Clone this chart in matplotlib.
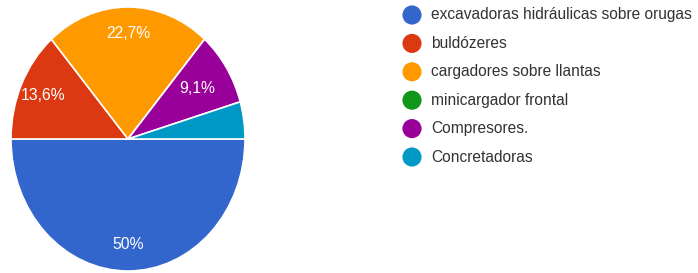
import matplotlib
matplotlib.use('Agg')
import matplotlib.pyplot as plt

# respuestas por tipo de equipo
labels = ["excavadoras hidráulicas sobre orugas", "buldózeres",
          "cargadores sobre llantas", "minicargador frontal",
          "Compresores.", "Concretadoras"]
counts = [11, 3, 5, 0, 2, 1]
colors = ["#3366cc", "#dc3912", "#ff9900", "#109618", "#990099", "#0099c6"]

plt.rcParams['font.family'] = ['Liberation Sans', 'DejaVu Sans']

W, H = 698, 273
fig = plt.figure(figsize=(W / 100, H / 100), dpi=100)

# pie axes (the picture is slightly stretched vertically)
ax = fig.add_axes([11 / W, 2 / H, 234 / W, 264 / H])


def fmt(p):
    if p < 5:
        return ''
    s = f"{p:.1f}".replace('.', ',')
    if s.endswith(',0'):
        s = s[:-2]
    return s + '%'


wedges, texts, autotexts = ax.pie(
    counts, colors=colors, startangle=0, counterclock=False,
    autopct=fmt, pctdistance=0.8,
    wedgeprops=dict(edgecolor='white', linewidth=1.2),
    textprops=dict(color='white', fontsize=11.3))
ax.set_aspect('auto')
ax.set_xlim(-1, 1)
ax.set_ylim(-1, 1)
ax.axis('off')

# smaller slice labels sit a little closer to the centre
for w, t in zip(wedges, autotexts):
    if t.get_text() and w.theta2 - w.theta1 < 40:
        x, y = t.get_position()
        t.set_position((x * 0.88, y * 0.88))

# legend drawn in pixel coordinates
lax = fig.add_axes([0, 0, 1, 1])
lax.set_xlim(0, W)
lax.set_ylim(H, 0)
lax.axis('off')
for i, (lab, c) in enumerate(zip(labels, colors)):
    y = 15 + i * 28.4
    lax.scatter([412], [y], s=190, color=c, edgecolors='none')
    lax.text(431, y, lab, fontsize=11.2, color='#333333', va='center', ha='left')

fig.savefig('out.png', dpi=100)
